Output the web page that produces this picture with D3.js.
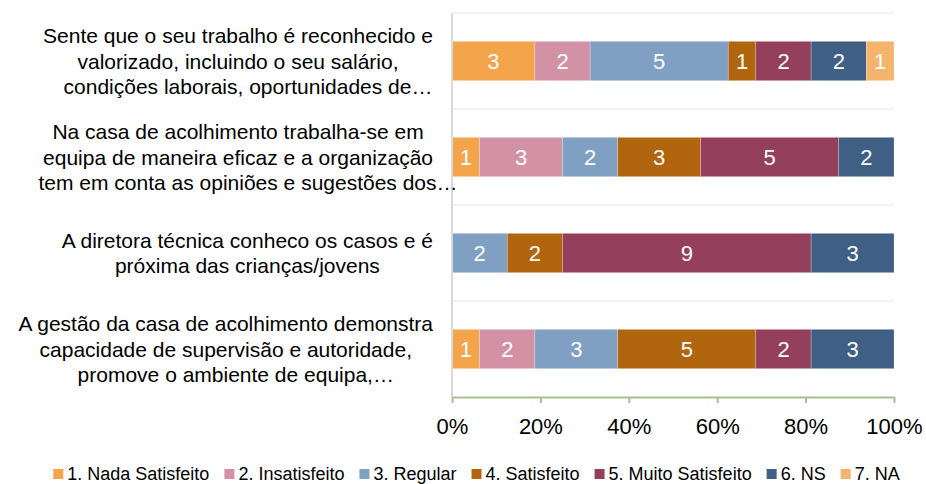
<!DOCTYPE html>
<html>
<head>
<meta charset="utf-8">
<script src="https://cdn.jsdelivr.net/npm/d3@7"></script>
<style>
  body { margin: 0; background: #fff; }
  text { font-family: "Liberation Sans", Arial, sans-serif; fill: #000; }
</style>
</head>
<body>
<svg width="926" height="484"></svg>
<script>
// categories, top to bottom (lines as shown in the chart)
const categories = [
  ["Sente que o seu trabalho é reconhecido e", "valorizado, incluindo o seu salário,", "condições laborais, oportunidades de…"],
  ["Na casa de acolhimento trabalha-se em", "equipa de maneira eficaz e a organização", "tem em conta as opiniões e sugestões dos…"],
  ["A diretora técnica conheco os casos e é", "próxima das crianças/jovens"],
  ["A gestão da casa de acolhimento demonstra", "capacidade de supervisão e autoridade,", "promove o ambiente de equipa,…"]
];

const seriesNames = ["1. Nada Satisfeito", "2. Insatisfeito", "3. Regular", "4. Satisfeito", "5. Muito Satisfeito", "6. NS", "7. NA"];
const seriesColors = ["#f4a44a", "#d291a5", "#7f9fc3", "#b0650e", "#943f5c", "#3f5f84", "#f5b46c"];

// counts per category, one array per series
const nadaSatisfeito  = [3, 1, 0, 1];
const insatisfeito    = [2, 3, 0, 2];
const regular         = [5, 2, 2, 3];
const satisfeito      = [1, 3, 2, 5];
const muitoSatisfeito = [2, 5, 9, 2];
const ns              = [2, 2, 3, 3];
const na              = [1, 0, 0, 0];

const tickValues = [0, 0.2, 0.4, 0.6, 0.8, 1];

const series = [nadaSatisfeito, insatisfeito, regular, satisfeito, muitoSatisfeito, ns, na];

const svg = d3.select('svg');

const x = d3.scaleLinear().domain([0, 1]).range([452, 894]);
const y = d3.scaleBand()
  .domain(d3.range(categories.length))
  .range([13, 397])
  .paddingInner(0.59)
  .paddingOuter(0.295);

// rows of shares
const rows = categories.map((c, i) => {
  const obj = { idx: i };
  seriesNames.forEach((s, j) => obj[s] = series[j][i]);
  return obj;
});
const totals = rows.map(r => d3.sum(seriesNames, s => r[s]));
const stack = d3.stack().keys(seriesNames)
  .value((d, key) => d[key] / totals[d.idx]);
const stacked = stack(rows);

// horizontal gridlines at band edges
const edges = d3.range(categories.length).map(i => y(i) - y.step() * y.paddingInner() / 2);
svg.append('g')
  .selectAll('line')
  .data(edges)
  .enter()
  .append('line')
  .attr('x1', x(0)).attr('x2', x(1))
  .attr('y1', d => d).attr('y2', d => d)
  .attr('stroke', '#efefef')
  .attr('stroke-width', 1.5);

// bars
const layer = svg.append('g')
  .selectAll('g')
  .data(stacked)
  .enter()
  .append('g')
  .attr('fill', (d, i) => seriesColors[i]);

layer.selectAll('rect')
  .data(d => d.filter(p => p[1] > p[0]).map(p => ({ p, key: d.key })))
  .enter()
  .append('rect')
  .attr('x', d => x(d.p[0]))
  .attr('width', d => x(d.p[1]) - x(d.p[0]))
  .attr('y', d => y(d.p.data.idx))
  .attr('height', y.bandwidth())
  .attr('stroke', '#ffffff')
  .attr('stroke-opacity', 0.4)
  .attr('stroke-width', 0.6);

layer.selectAll('text')
  .data(d => d.filter(p => p[1] > p[0]).map(p => ({ p, key: d.key })))
  .enter()
  .append('text')
  .attr('x', d => (x(d.p[0]) + x(d.p[1])) / 2)
  .attr('y', d => y(d.p.data.idx) + y.bandwidth() / 2)
  .attr('dy', '0.36em')
  .attr('text-anchor', 'middle')
  .style('font-size', '22px')
  .style('fill', '#fff')
  .text(d => d.p.data[d.key]);

// left axis line
svg.append('line')
  .attr('x1', x(0)).attr('x2', x(0))
  .attr('y1', 13).attr('y2', 397)
  .attr('stroke', '#d9d9d9')
  .attr('stroke-width', 2);

// bottom axis
const xAxis = svg.append('g')
  .attr('transform', 'translate(0,397)')
  .call(d3.axisBottom(x).tickValues(tickValues).tickFormat(d3.format('.0%')).tickSize(6).tickSizeOuter(0));
xAxis.select('.domain').attr('stroke', '#a9bd93').attr('stroke-width', 2);
xAxis.selectAll('.tick line').attr('stroke', '#a9bd93').attr('stroke-width', 2);
xAxis.selectAll('.tick text')
  .attr('y', 0).attr('dy', '0')
  .attr('transform', 'translate(0,37)')
  .style('font-size', '22px')
  .style('font-family', '"Liberation Sans", Arial, sans-serif')
  .style('fill', '#000');

// category labels
const lineH = 25.5;
const labelG = svg.append('g');
categories.forEach((lines, i) => {
  const g = labelG.append('g');
  const texts = lines.map(l => g.append('text')
    .style('font-size', '21px')
    .attr('text-anchor', 'middle')
    .text(l));
  const widths = texts.map((t, k) => lines[k].endsWith('…') ? 0 : t.node().getComputedTextLength());
  const cx = 433 - d3.max(widths) / 2;
  const cy = y(i) + y.bandwidth() / 2;
  texts.forEach((t, k) => {
    t.attr('x', lines[k].endsWith('…') ? cx + 10 : cx)
      .attr('y', cy + (k - (lines.length - 1) / 2) * lineH)
      .attr('dy', '0.36em');
  });
});

// legend
const legendGap = 15;
const legend = svg.append('g');
let lx = 0;
seriesNames.forEach((s, i) => {
  const item = legend.append('g').attr('transform', `translate(${lx},0)`);
  item.append('rect')
    .attr('x', 0).attr('y', -5)
    .attr('width', 10).attr('height', 10)
    .attr('fill', seriesColors[i]);
  const t = item.append('text')
    .attr('x', 14).attr('dy', '0.36em')
    .style('font-size', '18px')
    .style('fill', '#000')
    .text(s);
  lx += 14 + t.node().getComputedTextLength() + legendGap;
});
const legendW = lx - legendGap;
legend.attr('transform', `translate(${476.5 - legendW / 2},474)`);
</script>
</body>
</html>
